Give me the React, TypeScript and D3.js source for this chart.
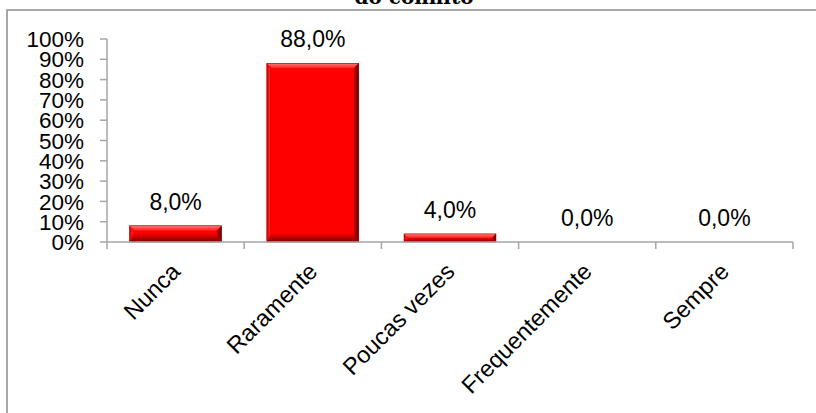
import React from "react";
import * as d3 from "d3";

const categories = ["Nunca", "Raramente", "Poucas vezes", "Frequentemente", "Sempre"];
const values = [8.0, 88.0, 4.0, 0.0, 0.0];
const yTicks = [0, 10, 20, 30, 40, 50, 60, 70, 80, 90, 100];
const title = "do conflito";

const W = 816;
const H = 413;
const plot = { left: 107, right: 793, top: 39, bottom: 242 };

const fmtPct = (v: number) => v.toFixed(1).replace(".", ",") + "%";

export default function App() {
  const x = d3
    .scaleBand<string>()
    .domain(categories)
    .range([plot.left, plot.right])
    .paddingInner(0.33)
    .paddingOuter(0.165);
  const y = d3.scaleLinear().domain([0, 100]).range([plot.bottom, plot.top]);
  const step = x.step();
  const boundaries = d3.range(categories.length + 1).map((i) => plot.left + i * step);
  const axisColor = "#a6a6a6";

  return (
    <svg
      width={W}
      height={H}
      style={{ position: "absolute", left: 0, top: 0, background: "#fff" }}
      fontFamily="'Liberation Sans', Arial, sans-serif"
    >
      <defs>
        <linearGradient id="bevTop" x1="0" y1="0" x2="0" y2="1">
          <stop offset="0" stopColor="#ff7a7a" />
          <stop offset="1" stopColor="#ff1a1a" />
        </linearGradient>
        <linearGradient id="bevBottom" x1="0" y1="0" x2="0" y2="1">
          <stop offset="0" stopColor="#f00000" />
          <stop offset="1" stopColor="#7a0000" />
        </linearGradient>
        <linearGradient id="bevRight" x1="0" y1="0" x2="1" y2="0">
          <stop offset="0" stopColor="#d80000" />
          <stop offset="1" stopColor="#4a0000" />
        </linearGradient>
        <linearGradient id="bevLeft" x1="0" y1="0" x2="1" y2="0">
          <stop offset="0" stopColor="#c00000" />
          <stop offset="1" stopColor="#ff2a2a" />
        </linearGradient>
      </defs>

      {/* chart frame */}
      <rect x={7} y={10} width={830} height={430} fill="none" stroke="#8c8c8c" strokeWidth={1.5} />

      <text
        x={414}
        y={4}
        textAnchor="middle"
        fontFamily="'DejaVu Serif', 'Liberation Serif', serif"
        fontWeight="bold"
        fontSize={20}
        fill="#000"
      >
        {title}
      </text>

      {/* y axis */}
      <line x1={plot.left} x2={plot.left} y1={y(100)} y2={plot.bottom} stroke={axisColor} strokeWidth={1.5} />
      {yTicks.map((t) => (
        <g key={t}>
          <line x1={plot.left - 7} x2={plot.left} y1={y(t)} y2={y(t)} stroke={axisColor} strokeWidth={1.5} />
          <text x={84} y={y(t)} dy="0.36em" textAnchor="end" fontSize={22.5} fill="#000">
            {t}%
          </text>
        </g>
      ))}

      {/* bars with bevel edges */}
      {values.map((v, i) => {
        const bx = x(categories[i])!;
        const bw = x.bandwidth();
        const by = y(v);
        const bh = plot.bottom - by;
        if (bh <= 0) return null;
        const bt = Math.min(5, bh / 2);
        const bb = Math.min(8, bh / 2);
        const bs = Math.min(5, bh / 2);
        const pts = (arr: number[][]) => arr.map((p) => p.join(",")).join(" ");
        return (
          <g key={categories[i]}>
            <rect x={bx} y={by} width={bw} height={bh} fill="#ff0000" />
            <polygon
              points={pts([[bx, by], [bx + bw, by], [bx + bw - bs, by + bt], [bx + bs, by + bt]])}
              fill="url(#bevTop)"
            />
            <polygon
              points={pts([[bx, by + bh], [bx + bw, by + bh], [bx + bw - bs, by + bh - bb], [bx + bs, by + bh - bb]])}
              fill="url(#bevBottom)"
            />
            <polygon
              points={pts([[bx + bw, by], [bx + bw, by + bh], [bx + bw - bs, by + bh - bb], [bx + bw - bs, by + bt]])}
              fill="url(#bevRight)"
            />
            <polygon
              points={pts([[bx, by], [bx, by + bh], [bx + 3, by + bh - bb], [bx + 3, by + bt]])}
              fill="url(#bevLeft)"
            />
            <rect x={bx} y={by} width={bw} height={bh} fill="none" stroke="#b00000" strokeWidth={0.6} />
          </g>
        );
      })}

      {/* x axis */}
      <line x1={plot.left} x2={plot.right} y1={plot.bottom} y2={plot.bottom} stroke={axisColor} strokeWidth={1.5} />
      {boundaries.map((bxv, i) => (
        <line key={i} x1={bxv} x2={bxv} y1={plot.bottom} y2={plot.bottom + 7} stroke={axisColor} strokeWidth={1.5} />
      ))}

      {/* value labels */}
      {values.map((v, i) => (
        <text
          key={"v" + i}
          x={x(categories[i])! + x.bandwidth() / 2}
          y={y(v) - 16}
          textAnchor="middle"
          fontSize={23}
          fill="#000"
        >
          {fmtPct(v)}
        </text>
      ))}

      {/* category labels */}
      {categories.map((c) => {
        const cx = x(c)! + x.bandwidth() / 2;
        return (
          <text
            key={c}
            transform={`translate(${cx + 6},${plot.bottom + 31}) rotate(-45)`}
            textAnchor="end"
            fontSize={23.5}
            fill="#000"
          >
            {c}
          </text>
        );
      })}
    </svg>
  );
}
